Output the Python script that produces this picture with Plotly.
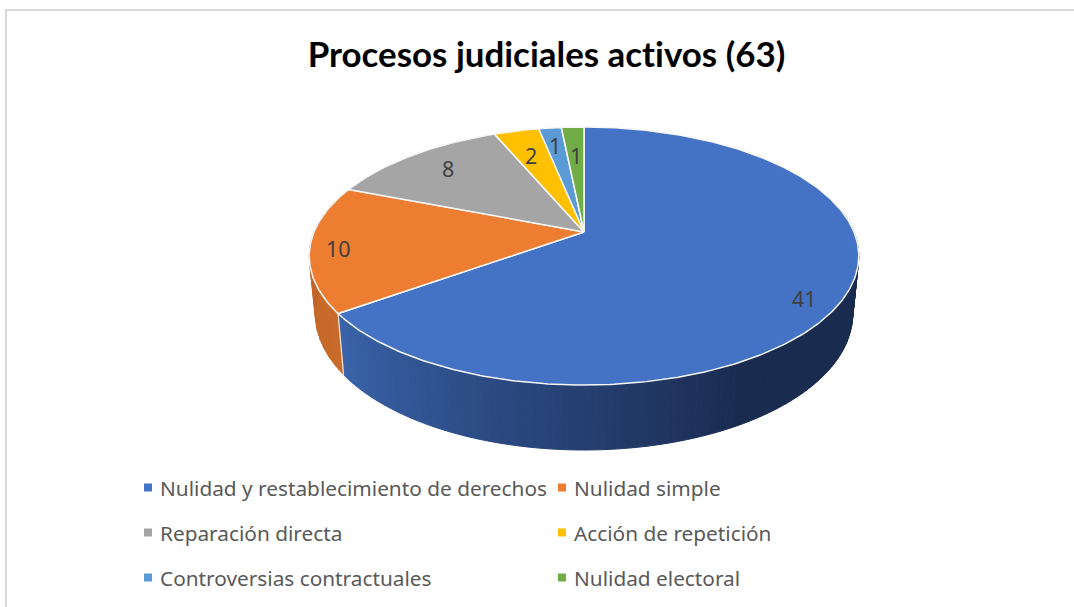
import numpy as np
import plotly.graph_objects as go

categories = ["Nulidad y restablecimiento de derechos", "Nulidad simple", "Reparación directa",
              "Acción de repetición", "Controversias contractuales", "Nulidad electoral"]
values = [41, 10, 8, 2, 1, 1]
title_text = "Procesos judiciales activos (63)"
colors = ["#4472C4", "#ED7D31", "#A5A5A5", "#FFC000", "#5B9BD5", "#70AD47"]
label_radius = [0.85, 0.90, 0.78, 0.72, 0.84, 0.74]
label_shift = [(0, 14), (1, 2), (1, -2), (-2, -1), (0, 3), (1, 4)]
legend_pos = [(120, 488), (534, 488), (120, 533), (534, 533), (120, 578), (534, 578)]

W, H = 1074, 607
CX = 584
TOP = dict(a=270.0, y0=232.0, b=-81.4, k=0.186)
BOT = dict(a=264.0, y0=288.7, b=-77.6, k=0.186)


def project(theta, r, g):
    s, c = np.sin(theta) * r, np.cos(theta) * r
    d = 1 + g["k"] * c
    return CX + g["a"] * s / d, (g["y0"] + g["b"] * c) / d


def lerp(c1, c2, t):
    return "rgb(%d,%d,%d)" % tuple(round(a + (b - a) * t) for a, b in zip(c1, c2))


total = sum(values)
edges = np.concatenate([[0], np.cumsum(values)]) / total * 2 * np.pi

fig = go.Figure()

# side wall: blue and orange slices, drawn as thin shaded strips
walls = [
    (0, np.radians(80), edges[1], (0x1A, 0x2B, 0x50), (0x3A, 0x64, 0xAC)),
    (1, edges[1], np.radians(285), (0xC9, 0x6B, 0x2A), (0xBD, 0x62, 0x26)),
]
for idx, start, end, c_dark, c_light in walls:
    n = 120 if idx == 0 else 14
    th = np.linspace(start, end, n + 1)
    for i in range(n):
        if idx == 0:
            u = np.clip((th[i] - np.radians(150)) / (end - np.radians(150)), 0, 1)
            col = lerp(c_dark, c_light, u)
        else:
            col = lerp(c_dark, c_light, i / (n - 1))
        xt, yt = project(th[i:i + 2], 1, TOP)
        xb, yb = project(th[i:i + 2], 1, BOT)
        fig.add_trace(go.Scatter(
            x=[xt[0], xt[1], xb[1], xb[0], xt[0]], y=[yt[0], yt[1], yb[1], yb[0], yt[0]],
            mode="lines", fill="toself", fillcolor=col, line=dict(color=col, width=1),
            hoverinfo="skip", showlegend=False))

# white seam between blue and orange walls
xs1, ys1 = project(np.array([edges[1]]), 1, TOP)
xs2, ys2 = project(np.array([edges[1]]), 1, BOT)
fig.add_trace(go.Scatter(x=[xs1[0], xs2[0]], y=[ys1[0], ys2[0]], mode="lines",
                         line=dict(color="#F4E9E0", width=1.2), hoverinfo="skip", showlegend=False))

# top face
for i, (cat, val, col) in enumerate(zip(categories, values, colors)):
    th = np.linspace(edges[i], edges[i + 1], max(4, int(val * 8)))
    px, py = project(th, 1, TOP)
    ax, ay = project(np.array([0.0]), 0, TOP)
    fig.add_trace(go.Scatter(
        x=np.concatenate([ax, px, ax]), y=np.concatenate([ay, py, ay]),
        mode="lines", fill="toself", fillcolor=col, line=dict(color="#F7F7F7", width=1.5),
        name=cat, hoverinfo="name", showlegend=False))

# data labels
for i, (val, r, (sx, sy)) in enumerate(zip(values, label_radius, label_shift)):
    mid = np.array([(edges[i] + edges[i + 1]) / 2])
    lx, ly = project(mid, r, TOP)
    fig.add_annotation(x=lx[0], y=ly[0], xshift=sx, yshift=-sy, text=str(val), showarrow=False,
                       font=dict(family="Noto Sans, sans-serif", size=21.5, color="#404040"))

# legends: one real legend per category, placed in a 2x3 grid
layout_legends = {}
for i, (cat, col, (lx, ly)) in enumerate(zip(categories, colors, legend_pos)):
    key = "legend" if i == 0 else f"legend{i + 1}"
    fig.add_trace(go.Scatter(x=[None], y=[None], mode="markers", name=cat,
                             marker=dict(symbol="square", size=8, color=col),
                             legend=key, showlegend=True))
    layout_legends[key] = dict(
        x=lx / W, y=1 - ly / H, xanchor="left", yanchor="middle",
        bgcolor="rgba(0,0,0,0)", borderwidth=0, itemclick=False, itemdoubleclick=False,
        font=dict(family="Noto Sans, Open Sans, sans-serif", size=20.8, color="#595959"))

fig.update_layout(
    width=W, height=H, autosize=False,
    margin=dict(l=0, r=0, t=0, b=0),
    paper_bgcolor="white", plot_bgcolor="white",
    title=dict(text=f"<b>{title_text}</b>", x=546.5 / W, xanchor="center", y=1 - 55 / H, yanchor="middle",
               font=dict(family="Lato, sans-serif", size=34.9, color="#000000")),
    xaxis=dict(range=[0, W], visible=False, fixedrange=True),
    yaxis=dict(range=[H, 0], visible=False, fixedrange=True),
    shapes=[
        dict(type="line", xref="x", yref="y", x0=6, x1=6, y0=9, y1=H, line=dict(color="#D9D9D9", width=2)),
        dict(type="line", xref="x", yref="y", x0=6, x1=W, y0=10, y1=10, line=dict(color="#D9D9D9", width=2)),
    ],
    **layout_legends,
)
post = """
document.body.style.margin='0';
document.body.style.overflow='hidden';
document.querySelectorAll('.gtitle').forEach(function(e){e.style.fontVariantLigatures='none';});
document.querySelectorAll('.legendsymbols').forEach(function(e){e.setAttribute('transform','translate(8,0)');});
"""
fig.write_html("out.html", config=dict(displayModeBar=False), post_script=post)
